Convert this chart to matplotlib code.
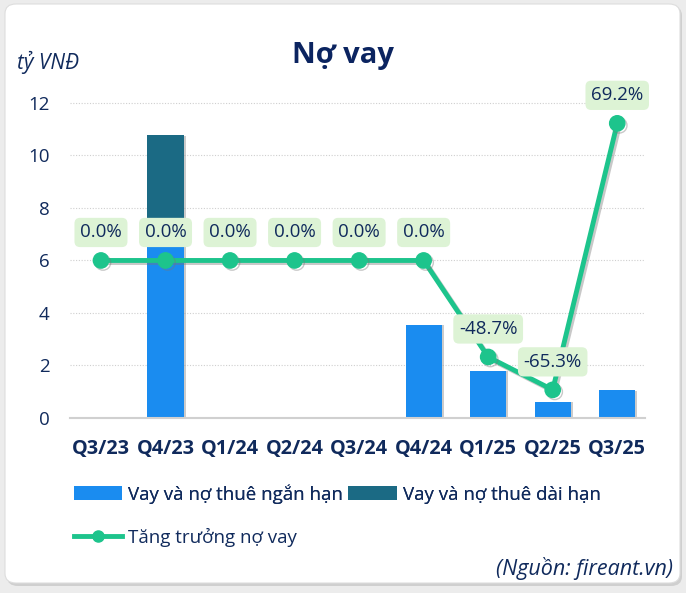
import matplotlib
matplotlib.use("Agg")
import matplotlib.pyplot as plt
from matplotlib.patches import FancyBboxPatch, Patch
from matplotlib.lines import Line2D
import matplotlib.patheffects as pe

plt.rcParams['font.family'] = ['Open Sans', 'DejaVu Sans']

categories = ["Q3/23", "Q4/23", "Q1/24", "Q2/24", "Q3/24", "Q4/24", "Q1/25", "Q2/25", "Q3/25"]
short_term = [0, 6.53, 0, 0, 0, 3.55, 1.80, 0.62, 1.05]
long_term = [0, 4.25, 0, 0, 0, 0, 0, 0, 0]
growth = [0.0, 0.0, 0.0, 0.0, 0.0, 0.0, -48.7, -65.3, 69.2]
growth_labels = ["0.0%", "0.0%", "0.0%", "0.0%", "0.0%", "0.0%", "-48.7%", "-65.3%", "69.2%"]
yticks = [0, 2, 4, 6, 8, 10, 12]

C_SHORT = "#1A8CF0"
C_LONG = "#1B6A84"
C_LINE = "#1DC48C"
C_TEXT = "#102A5C"
C_TITLE = "#0B2460"

W, H = 686, 593
fig = plt.figure(figsize=(W / 100, H / 100), dpi=100)
fig.patch.set_facecolor("#ECECEC")

# card
shadow = FancyBboxPatch((7 / W, 1 - 586 / H), 675 / W, 580 / H,
                        boxstyle="round,pad=0,rounding_size=0.016",
                        transform=fig.transFigure, facecolor="#C8C8C8",
                        edgecolor="none", zorder=-3, alpha=0.8)
card = FancyBboxPatch((5 / W, 1 - 583 / H), 675 / W, 579 / H,
                      boxstyle="round,pad=0,rounding_size=0.016",
                      transform=fig.transFigure, facecolor="white",
                      edgecolor="#DDDDDD", linewidth=0.8, zorder=-2)
fig.patches.extend([shadow, card])

ax = fig.add_axes([70 / W, 1 - 418 / H, 575 / W, (418 - 95) / H])
ax.set_facecolor("none")
x = list(range(len(categories)))

bar_shadow = [pe.SimplePatchShadow(offset=(1.5, -0.5), shadow_rgbFace="#999999", alpha=0.5), pe.Normal()]
ax.bar(x, short_term, width=0.56, color=C_SHORT, zorder=2, path_effects=bar_shadow)
ax.bar(x, long_term, width=0.56, bottom=short_term, color=C_LONG, zorder=2, path_effects=bar_shadow)

ax.set_xlim(-0.48, 8.43)
ax.set_ylim(0, 12.3)
ax.set_yticks(yticks)
ax.set_yticklabels([str(t) for t in yticks], fontsize=13.5, color=C_TEXT)
ax.set_xticks(x)
ax.set_xticklabels(categories, fontsize=14.3, fontweight="bold", color=C_TEXT)
ax.tick_params(axis="both", length=0)
ax.tick_params(axis="y", pad=14.5)
ax.tick_params(axis="x", pad=15)
ax.grid(axis="y", linestyle=(0, (1, 1.5)), color="#CFCFCF", linewidth=0.8, zorder=0)
for s in ["top", "right", "left"]:
    ax.spines[s].set_visible(False)
ax.spines["bottom"].set_color("#D0D0D0")
ax.spines["bottom"].set_linewidth(1.5)

ax2 = ax.twinx()
ax2.set_ylim(-79.5, 83.5)
ax2.axis("off")
line_shadow = [pe.SimpleLineShadow(offset=(1.5, -1.5), shadow_color="#777777", alpha=0.4), pe.Normal()]
ax2.plot(x, growth, color=C_LINE, linewidth=3.5, marker="o", markersize=11,
         zorder=3, path_effects=line_shadow)
for xi, g, lab in zip(x, growth, growth_labels):
    ax2.annotate(lab, (xi, g), xytext=(0, 28), textcoords="offset pixels",
                 ha="center", va="center", fontsize=13.5, color=C_TEXT,
                 bbox=dict(boxstyle="round,pad=0.3,rounding_size=0.3", facecolor="#DDF3D5", edgecolor="none"),
                 zorder=5)

fig.text(343 / W, 1 - 56 / H, "Nợ vay", ha="center", va="center", fontsize=21,
         fontweight="bold", color=C_TITLE)
fig.text(17 / W, 1 - 62 / H, "tỷ VNĐ", ha="left", va="center", fontsize=15,
         style="italic", color=C_TEXT)
fig.text(673 / W, 1 - 568 / H, "(Nguồn: fireant.vn)", ha="right", va="center", fontsize=15.5,
         style="italic", color=C_TEXT)

handles1 = [Patch(facecolor=C_SHORT, label="Vay và nợ thuê ngắn hạn"),
            Patch(facecolor=C_LONG, label="Vay và nợ thuê dài hạn")]
leg1 = fig.legend(handles=handles1, loc="center left", bbox_to_anchor=(66 / W, 1 - 494 / H),
                  ncol=2, frameon=False, fontsize=13.5, handlelength=2.6, handleheight=0.75,
                  handletextpad=0.3, columnspacing=0.3, labelcolor=C_TEXT, borderaxespad=0)
handles2 = [Line2D([0], [0], color=C_LINE, linewidth=3.5, marker="o", markersize=8,
                   label="Tăng trưởng nợ vay")]
fig.legend(handles=handles2, loc="center left", bbox_to_anchor=(66 / W, 1 - 537 / H),
           frameon=False, fontsize=13.5, handlelength=2.6, handletextpad=0.3,
           labelcolor=C_TEXT, borderaxespad=0)
fig.add_artist(leg1)

fig.savefig("out.png", dpi=100, facecolor=fig.get_facecolor())
